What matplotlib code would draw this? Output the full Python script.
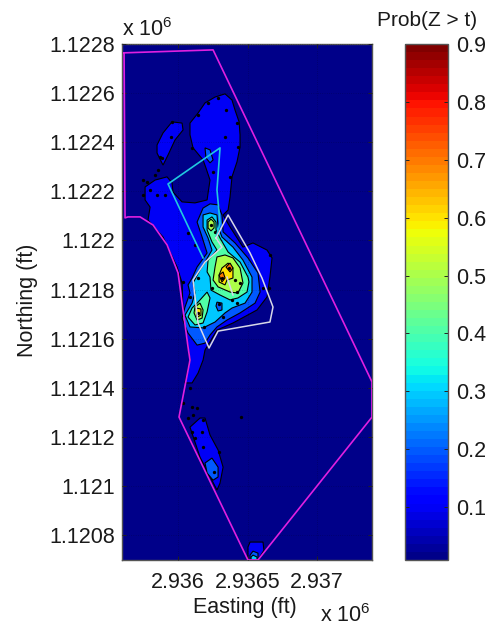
import numpy as np
import matplotlib
matplotlib.use("Agg")
import matplotlib.pyplot as plt
from matplotlib.colors import ListedColormap, Normalize
from matplotlib.cm import ScalarMappable

plt.rcParams['font.family'] = ['Liberation Sans', 'DejaVu Sans']
plt.rcParams['mathtext.fontset'] = 'custom'
plt.rcParams['mathtext.rm'] = 'Liberation Sans'

# all outlines are (easting - E0, northing - N0) in ft
E0 = 2936000
N0 = 1121000

x_ticks = [2936000, 2936500, 2937000]
x_labels = ['2.936', '2.9365', '2.937']
y_ticks = [1120800, 1121000, 1121200, 1121400, 1121600, 1121800, 1122000,
           1122200, 1122400, 1122600, 1122800]
y_labels = ['1.1208', '1.121', '1.1212', '1.1214', '1.1216', '1.1218', '1.122',
            '1.1222', '1.1224', '1.1226', '1.1228']
cbar_ticks = [0.1, 0.2, 0.3, 0.4, 0.5, 0.6, 0.7, 0.8, 0.9]

# probability >= 0.1
p10_main = [(266, 1584), (338, 1597), (388, 1572), (410, 1531), (439, 1483), (446, 1430), (446, 1381),
            (424, 1320), (388, 1259), (374, 1177), (360, 1124), (324, 1104), (374, 1055),
            (467, 973), (539, 990), (640, 961), (676, 929), (661, 851), (640, 770), (568, 717),
            (395, 664), (280, 635), (194, 554), (180, 513), (144, 460), (101, 420), (50, 420),
            (86, 513), (72, 566), (36, 717), (29, 827), (-7, 892), (-108, 1014), (-216, 1083),
            (-201, 1136), (-237, 1165), (-237, 1218), (-165, 1246), (-79, 1259), (-43, 1234),
            (-36, 1197), (29, 1157), (122, 1153), (209, 1165), (216, 1193), (230, 1246), (201, 1295),
            (180, 1328), (108, 1377), (86, 1430), (86, 1478), (144, 1519), (194, 1560)]
p10_left = [(-151, 1389), (-108, 1438), (-43, 1483), (29, 1478), (36, 1450), (-22, 1409), (-72, 1348),
            (-108, 1307), (-151, 1356)]
p10_tail = [(158, 277), (194, 277), (230, 208), (288, 147), (324, 77), (302, 12), (280, -16), (158, 118),
            (86, 240)]
p10_bump = [(503, -248), (518, -228), (611, -228), (618, -261), (575, -301), (503, -301)]

# probability >= 0.2
p20_main = [(180, 1132), (230, 1149), (288, 1145), (316, 1104), (324, 1035), (410, 990), (503, 929),
            (575, 868), (590, 790), (554, 745), (446, 705), (352, 676), (280, 648), (230, 615),
            (194, 582), (137, 574), (72, 623), (29, 684), (50, 729), (86, 786), (72, 819), (101, 847),
            (137, 892), (209, 949), (173, 1014), (137, 1075)]
p20_tail = [(194, 94), (244, 114), (288, 77), (288, 37), (252, 24), (209, 53)]
p20_spot = [(194, 1377), (230, 1369), (252, 1328), (230, 1316), (201, 1336)]
p20_bump = [(518, -281), (539, -265), (575, -273), (575, -301), (518, -301)]
p20_hole = [(280, 749), (316, 745), (316, 717), (288, 713), (273, 733)]

# probability >= 0.3
p30_main = [(180, 1104), (230, 1112), (280, 1104), (288, 1055), (316, 1014), (395, 973), (467, 920),
            (532, 851), (532, 790), (482, 745), (388, 725), (338, 705), (266, 668), (180, 644),
            (86, 648), (50, 696), (101, 745), (122, 786), (108, 827), (158, 880), (194, 912),
            (244, 961), (216, 1010), (180, 1055)]
p30_bump = [(525, -289), (539, -281), (568, -289), (568, -301), (525, -301)]

# probability >= 0.4
p40_main = [(209, 1083), (244, 1096), (273, 1075), (273, 1043), (302, 1010), (360, 953), (446, 912),
            (503, 851), (510, 831), (496, 790), (431, 766), (374, 758), (302, 778), (237, 798),
            (230, 851), (209, 872), (216, 920), (280, 961), (244, 994), (209, 1043)]
p40_lower = [(144, 749), (209, 790), (230, 766), (209, 709), (180, 664), (122, 656), (72, 688), (101, 725)]

# probability >= 0.5
p50_main = [(280, 933), (338, 941), (395, 929), (446, 888), (467, 827), (431, 786), (374, 790),
            (288, 811), (252, 839), (266, 892)]
p50_top = [(216, 1075), (237, 1087), (259, 1075), (259, 1051), (237, 1039), (216, 1051)]
p50_lower = [(122, 729), (158, 745), (180, 717), (173, 684), (137, 676), (115, 705)]

# probability >= 0.6
p60_main = [(295, 859), (316, 888), (360, 908), (395, 888), (395, 847), (352, 839), (338, 819), (295, 831)]
p60_lower = [(129, 725), (165, 721), (165, 696), (137, 688)]

# probability >= 0.7
p70_a = [(295, 859), (324, 872), (338, 847), (316, 831)]
p70_b = [(345, 892), (374, 908), (395, 888), (374, 872)]

regions = [(0.1, [p10_main, p10_left, p10_tail, p10_bump]),
           (0.2, [p20_main, p20_tail, p20_spot, p20_bump]),
           (0.3, [p30_main, p30_bump]),
           (0.2, [p20_hole]),
           (0.4, [p40_main, p40_lower]),
           (0.5, [p50_main, p50_top, p50_lower]),
           (0.6, [p60_main, p60_lower]),
           (0.7, [p70_a, p70_b])]

# tiny closed contours
specks = [(316, 847), (367, 888), (144, 705), (237, 1063), (259, 57), (-50, 1421), (-115, 1336), (345, 1531),
          (338, 1421), (101, 1377), (252, 1279), (288, 1580), (-252, 1246), (-223, 1238), (-144, 1287),
          (-165, 1267), (-93, 1185), (-151, 1185), (36, 831), (86, 770), (244, 806), (295, 741), (324, 688),
          (266, 1035), (122, 982), (72, 1030), (144, 847), (424, 790), (424, 745), (661, 941), (654, 806),
          (410, 839), (86, 399), (36, 338), (101, 322), (137, 318), (72, 277), (108, 289), (180, 269),
          (101, 220), (173, 220), (122, 196), (180, 159), (295, 138), (453, 281), (187, 648), (446, 827),
          (388, 758), (611, 806), (280, 1035), (-252, 1185), (-201, 1206), (144, 1511), (216, 1560),
          (424, 1478), (431, 1381), (374, 1259), (-43, 1483), (-129, 1340)]

site_boundary = [(-388, 1764), (252, 1776), (1395, 424), (1395, 281), (575, -301), (503, -301), (7, 281),
                 (86, 513), (72, 566), (36, 717), (0, 868), (-79, 982), (-180, 1063), (-273, 1096),
                 (-360, 1096), (-381, 1092), (-388, 1764)]
cyan_zone = [(180, 929), (-72, 1230), (302, 1377), (280, 1206), (302, 1071), (273, 1010)]
white_zone = [(273, 1010), (316, 973), (194, 912), (108, 839), (144, 664), (223, 562), (288, 631),
              (661, 668), (683, 729), (604, 847), (518, 949), (360, 1104), (273, 1010)]
white_inner = [(352, 851), (395, 778)]


def xy(points):
    pts = np.array(points, dtype=float)
    return pts[:, 0] + E0, pts[:, 1] + N0


cmap = ListedColormap(plt.get_cmap('jet')(np.linspace(0.008, 1, 64)))
norm = Normalize(0.0086, 0.9)

fig = plt.figure(figsize=(4.9, 6.26), dpi=100)
ax = fig.add_axes([122 / 490, 1 - 560 / 626, 250 / 490, 516 / 626])
ax.set_facecolor(cmap(0))

for level, polys in regions:
    for p in polys:
        x, y = xy(p)
        ax.fill(x, y, facecolor=cmap(norm(level)), edgecolor='k', lw=0.8, zorder=2)

x, y = xy(specks)
ax.plot(x, y, 'o', color='k', ms=2.4, mew=0, zorder=3)

x, y = xy(site_boundary)
ax.plot(x, y, color='#e020e0', lw=1.2, zorder=4)
x, y = xy(cyan_zone)
ax.plot(x, y, color='#20c8e0', lw=1.2, zorder=4)
x, y = xy(white_zone)
ax.plot(x, y, color='#d8d8e8', lw=1.1, zorder=4)
x, y = xy(white_inner)
ax.plot(x, y, color='#d8d8e8', lw=1.1, zorder=4)

ax.set_xlim(E0 - 403, E0 + 1395)
ax.set_ylim(N0 - 301, N0 + 1800)
ax.set_xticks(x_ticks)
ax.set_xticklabels(x_labels)
ax.set_yticks(y_ticks)
ax.set_yticklabels(y_labels)
ax.tick_params(direction='in', length=3, width=0.7, labelsize=15.5, color='#222222', pad=5,
               top=True, right=True, labelcolor='#1a1a1a')
ax.tick_params(axis='x', pad=9)
ax.grid(True, color='k', ls=(0, (1, 3)), lw=0.4, alpha=0.5, zorder=1)
ax.set_axisbelow(False)
for s in ax.spines.values():
    s.set_color('#555555')
    s.set_linewidth(1.0)

fig.text(27 / 490, 1 - 300 / 626, 'Northing (ft)', rotation=90, ha='center', va='center', fontsize=15.5, color='#1a1a1a')
fig.text(245 / 490, 1 - 607 / 626, 'Easting (ft)', ha='center', va='center', fontsize=15.5, color='#1a1a1a')
fig.text(122 / 490, 1 - 36 / 626, r'x 10$^{6}$', ha='left', va='baseline', fontsize=15.5, color='#1a1a1a')
fig.text(320 / 490, 1 - 622 / 626, r'x 10$^{6}$', ha='left', va='baseline', fontsize=15.5, color='#1a1a1a')
fig.text(427 / 490, 1 - 21 / 626, 'Prob(Z > t)', ha='center', va='center', fontsize=15, color='#1a1a1a')

cax = fig.add_axes([405 / 490, 1 - 560 / 626, 43 / 490, 516 / 626])
cb = fig.colorbar(ScalarMappable(norm=norm, cmap=cmap), cax=cax)
cb.set_ticks(cbar_ticks)
cb.set_ticklabels(['%.1f' % t for t in cbar_ticks])
cb.minorticks_off()
cax.tick_params(direction='in', length=3, width=0.7, labelsize=15.5, color='#222222', pad=6,
                left=True, right=True, labelcolor='#1a1a1a')
cb.outline.set_edgecolor('#555555')
cb.outline.set_linewidth(1.0)

fig.savefig('out.png', dpi=100)
